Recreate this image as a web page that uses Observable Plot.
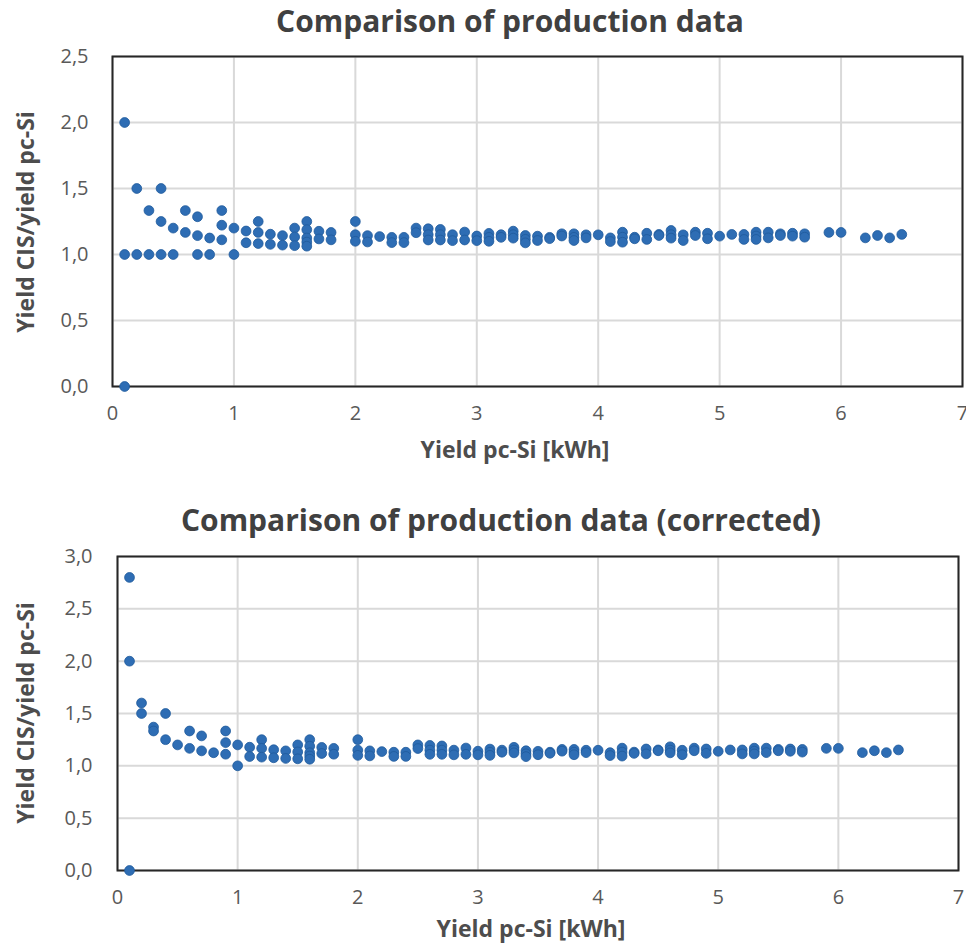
<!DOCTYPE html>
<html><head><meta charset="utf-8">
<script src="https://cdn.jsdelivr.net/npm/d3@7"></script>
<script src="https://cdn.jsdelivr.net/npm/@observablehq/plot@0.6"></script>
<style>
body{margin:0;background:#fff;font-family:"Open Sans",sans-serif;}
#wrap{position:relative;width:966px;height:944px;overflow:hidden;}
.t{position:absolute;white-space:nowrap;transform:translate(-50%,-50%);line-height:1;}
.title{font-size:30px;font-weight:700;color:#404040;}
.axt{font-size:23px;font-weight:700;color:#4d4d4d;}
.rot{transform:translate(-50%,-50%) rotate(-90deg);}
.chart{position:absolute;left:0;}
</style></head><body><div id="wrap">
<div class="t title" style="left:510px;top:21px">Comparison of production data</div>
<div class="t axt" style="left:515px;top:449px">Yield pc-Si [kWh]</div>
<div class="t axt rot" style="left:25px;top:222px">Yield CIS/yield pc-Si</div>
<div class="t title" style="left:501px;top:520px">Comparison of production data (corrected)</div>
<div class="t axt" style="left:531px;top:928px">Yield pc-Si [kWh]</div>
<div class="t axt rot" style="left:25px;top:713px">Yield CIS/yield pc-Si</div>
<div id="c1" class="chart" style="top:0px"></div>
<div id="c2" class="chart" style="top:470px"></div>
</div>
<script>
// tick labels
const xTicks = [0, 1, 2, 3, 4, 5, 6, 7];
const yTicksTop = [0, 0.5, 1.0, 1.5, 2.0, 2.5];
const yTicksBottom = [0, 0.5, 1.0, 1.5, 2.0, 2.5, 3.0];

// low-yield points, original data (top chart)
const lowTopX = [0.1, 0.1, 0.1, 0.2, 0.2, 0.3, 0.3, 0.4, 0.4, 0.4, 0.5, 0.5, 0.6, 0.6, 0.7, 0.7, 0.7, 0.8, 0.8, 0.9, 0.9, 0.9, 1.0, 1.0];
const lowTopY = [2.0, 1.0, 0.0, 1.5, 1.0, 1.333, 1.0, 1.5, 1.25, 1.0, 1.2, 1.0, 1.333, 1.167, 1.286, 1.143, 1.0, 1.125, 1.0, 1.333, 1.222, 1.111, 1.2, 1.0];

// low-yield points, corrected data (bottom chart)
const lowBotX = [0.1, 0.1, 0.1, 0.2, 0.2, 0.3, 0.3, 0.4, 0.4, 0.5, 0.6, 0.6, 0.7, 0.7, 0.8, 0.9, 0.9, 0.9, 1.0, 1.0];
const lowBotY = [2.8, 2.0, 0.0, 1.6, 1.5, 1.37, 1.333, 1.5, 1.25, 1.2, 1.333, 1.167, 1.286, 1.143, 1.125, 1.333, 1.222, 1.111, 1.2, 1.0];

// common points for yields >= 1.1 kWh (x value and the ratios read at it)
const mainX = [1.1, 1.2, 1.3, 1.4, 1.5, 1.6, 1.7, 1.8, 2.0, 2.1, 2.2, 2.3, 2.4, 2.5, 2.6, 2.7, 2.8, 2.9, 3.0, 3.1, 3.2, 3.3, 3.4, 3.5, 3.6, 3.7, 3.8, 3.9, 4.0, 4.1, 4.2, 4.3, 4.4, 4.5, 4.6, 4.7, 4.8, 4.9, 5.0, 5.1, 5.2, 5.3, 5.4, 5.5, 5.6, 5.7, 5.9, 6.0, 6.2, 6.3, 6.4, 6.5];
const mainY = [
  [1.178, 1.089], [1.25, 1.167, 1.083], [1.154, 1.077], [1.143, 1.071], [1.2, 1.133, 1.067],
  [1.25, 1.188, 1.125, 1.094, 1.063], [1.176, 1.118], [1.167, 1.111], [1.25, 1.15, 1.1], [1.143, 1.095],
  [1.136], [1.13, 1.09], [1.13, 1.09], [1.2, 1.165], [1.195, 1.15, 1.11],
  [1.19, 1.15, 1.11], [1.15, 1.105], [1.17, 1.11], [1.14, 1.105], [1.16, 1.13, 1.1],
  [1.15, 1.13], [1.177, 1.15, 1.124], [1.144, 1.115, 1.088], [1.139, 1.106], [1.13, 1.12],
  [1.157, 1.14], [1.157, 1.13, 1.106], [1.149, 1.126], [1.149], [1.126, 1.098],
  [1.169, 1.131, 1.093], [1.131, 1.119], [1.161, 1.114], [1.152, 1.144], [1.182, 1.15, 1.124],
  [1.149, 1.106], [1.169, 1.144], [1.161, 1.119], [1.139], [1.152],
  [1.152, 1.114], [1.169, 1.14, 1.114], [1.169, 1.126], [1.157, 1.144], [1.161, 1.139],
  [1.157, 1.131], [1.167], [1.167], [1.126], [1.144], [1.126], [1.152]
];

const mainPts = mainX.flatMap((x, i) => mainY[i].map(y => ({x, y})));
const topPts = lowTopX.map((x, i) => ({x, y: lowTopY[i]})).concat(mainPts);
const botPts = lowBotX.map((x, i) => ({x, y: lowBotY[i]})).concat(mainPts);

const fmtY = d => d.toFixed(1).replace(".", ",");

function chart(points, yMax, yTicks, o) {
  return Plot.plot({
    width: 966, height: o.height,
    marginTop: o.mt, marginBottom: o.mb, marginLeft: o.ml, marginRight: o.mr,
    style: {fontFamily: '"Open Sans", sans-serif', fontSize: "20px", color: "#595959", background: "transparent", overflow: "visible"},
    x: {domain: [0, 7]},
    y: {domain: [0, yMax]},
    marks: [
      Plot.gridX(xTicks, {stroke: "#d9d9d9", strokeOpacity: 1, strokeWidth: 2}),
      Plot.gridY(yTicks, {stroke: "#d9d9d9", strokeOpacity: 1, strokeWidth: 2}),
      Plot.axisX(xTicks, {tickSize: 0, tickPadding: 19, label: null, tickFormat: d => String(d)}),
      Plot.axisY(yTicks, {tickSize: 0, tickPadding: o.tp, label: null, tickFormat: fmtY}),
      Plot.frame({stroke: "#262626", strokeWidth: 2}),
      Plot.dot(points, {x: "x", y: "y", r: 4.9, fill: "#2e6db4", stroke: "#1f5b9c", strokeWidth: 0.8})
    ]
  });
}

document.getElementById("c1").append(chart(topPts, 2.5, yTicksTop, {height: 470, mt: 56, mb: 84, ml: 112, mr: 4, tp: 24}));
document.getElementById("c2").append(chart(botPts, 3.0, yTicksBottom, {height: 474, mt: 86, mb: 74, ml: 117, mr: 8, tp: 25}));
</script>
</body></html>
